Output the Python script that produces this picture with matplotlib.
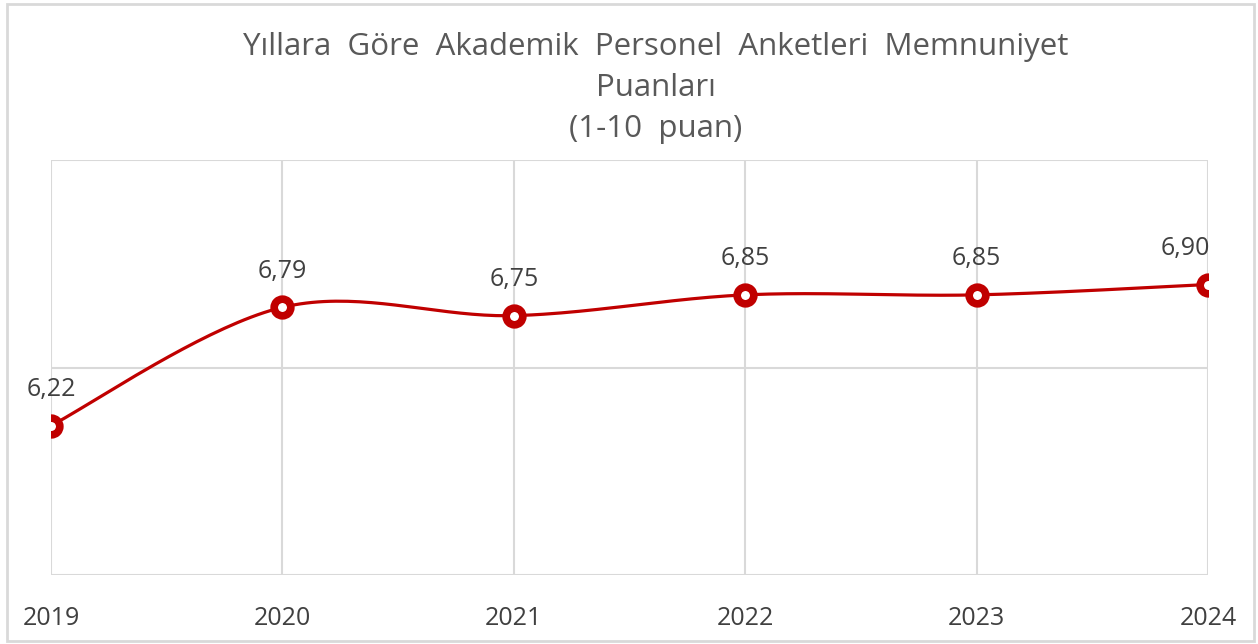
import numpy as np
import matplotlib.pyplot as plt
from matplotlib.patches import Rectangle

# data
years = ["2019", "2020", "2021", "2022", "2023", "2024"]
scores = [6.22, 6.79, 6.75, 6.85, 6.85, 6.90]
score_labels = ["6,22", "6,79", "6,75", "6,85", "6,85", "6,90"]

red = "#C00000"
grid = "#D9D9D9"
txt = "#404040"

plt.rcParams['font.family'] = ['Open Sans', 'DejaVu Sans']


def smooth(xs, ys, n=40):
    # excel-ish smoothed line: catmull-rom as cubic bezier
    xs = np.asarray(xs, float)
    ys = np.asarray(ys, float)
    px = np.concatenate([[xs[0]], xs, [xs[-1]]])
    py = np.concatenate([[ys[0]], ys, [ys[-1]]])
    outx, outy = [], []
    t = np.linspace(0, 1, n)
    for i in range(1, len(px) - 2):
        p0 = np.array([px[i], py[i]])
        p3 = np.array([px[i + 1], py[i + 1]])
        c1 = p0 + (p3 - np.array([px[i - 1], py[i - 1]])) / 6
        c2 = p3 - (np.array([px[i + 2], py[i + 2]]) - p0) / 6
        b = ((1 - t) ** 3)[:, None] * p0 + (3 * (1 - t) ** 2 * t)[:, None] * c1 \
            + (3 * (1 - t) * t ** 2)[:, None] * c2 + (t ** 3)[:, None] * p3
        outx.extend(b[:, 0])
        outy.extend(b[:, 1])
    return outx, outy


fig = plt.figure(figsize=(12.58, 6.44), dpi=100)
fig.patches.append(Rectangle((7 / 1258, 3 / 644), 1247 / 1258, 637 / 644,
                             transform=fig.transFigure, fill=False,
                             edgecolor=grid, lw=2))

ax = fig.add_axes([51 / 1258, 1 - 575 / 644, 1157 / 1258, 415 / 644])
x = np.arange(len(years))
sx, sy = smooth(x, scores)
ax.plot(sx, sy, color=red, lw=2.3, zorder=3, solid_capstyle='round')
ax.plot(x, scores, ls='none', marker='o', ms=12, mew=5.5,
        mec=red, mfc='white', zorder=4)

for i, (v, lab) in enumerate(zip(scores, score_labels)):
    dx = -16 if i == len(scores) - 1 else 0
    ax.annotate(lab, (x[i], v), xytext=(dx, 17), textcoords='offset points',
                ha='center', va='bottom', fontsize=18, color=txt)

ax.set_xlim(0, 5)
ax.set_ylim(5.5, 7.5)
ax.set_yticks([5.5, 6.5, 7.5])
ax.set_xticks(x)
ax.set_xticklabels(years, fontsize=18, color=txt)
ax.tick_params(axis='x', length=0, pad=22)
ax.tick_params(axis='y', length=0, labelleft=False)
ax.grid(True, color=grid, lw=1.5)
ax.set_axisbelow(True)
for s in ax.spines.values():
    s.set_visible(False)

fig.text(656 / 1258, 1 - 88 / 644,
         "Yıllara  Göre  Akademik  Personel  Anketleri  Memnuniyet\nPuanları\n(1-10  puan)",
         ha='center', va='center', fontsize=22.5, color="#595959",
         linespacing=1.5)

fig.savefig("out.png", dpi=100)
